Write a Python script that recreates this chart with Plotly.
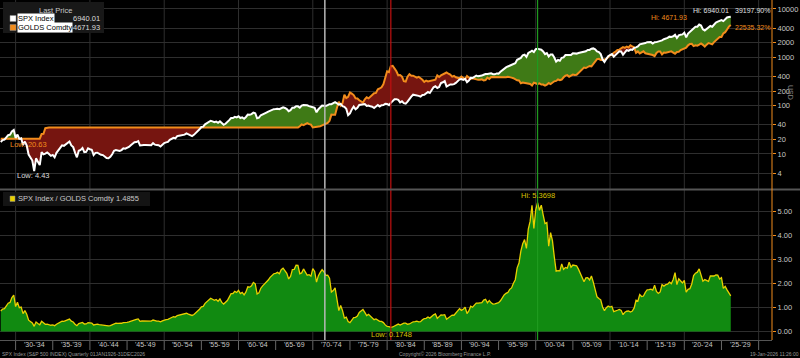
import numpy as np
import plotly.graph_objects as go

# ---------------- data (quarter-end closes) ----------------
quarters = ["1927Q4"] + [f"{y}Q{q}" for y in range(1928, 2026) for q in range(1, 5)] + ["2026Q1"]

spx = [
    17.66,
    19.28, 19.70, 21.60, 24.35,   # 1928
    25.0, 29.2, 31.3, 21.45,      # 1929
    25.1, 20.5, 21.0, 15.3,       # 1930
    18.0, 14.8, 9.7, 8.1,         # 1931
    7.3, 4.43, 8.1, 6.9,          # 1932
    5.85, 10.9, 9.8, 10.1,        # 1933
    10.7, 9.9, 9.1, 9.5,          # 1934
    8.5, 10.5, 11.9, 13.4,        # 1935
    15.0, 14.7, 15.9, 17.2,       # 1936
    18.1, 15.0, 13.8, 10.6,       # 1937
    8.5, 11.6, 12.1, 13.2,        # 1938
    10.9, 11.0, 13.0, 12.5,       # 1939
    12.2, 9.5, 10.5, 10.6,        # 1940
    9.95, 9.6, 9.45, 8.7,         # 1941
    8.2, 8.1, 8.7, 9.8,           # 1942
    11.6, 12.0, 11.9, 11.5,       # 1943
    12.0, 13.0, 12.8, 13.3,       # 1944
    13.9, 15.1, 16.0, 17.4,       # 1945
    17.6, 18.4, 14.9, 15.3,       # 1946
    15.2, 15.2, 15.1, 15.3,       # 1947
    15.1, 16.7, 15.5, 15.2,       # 1948
    15.1, 14.2, 15.6, 16.8,       # 1949
    17.3, 17.7, 19.5, 20.4,       # 1950
    21.5, 21.0, 23.3, 23.8,       # 1951
    24.4, 25.0, 25.0, 26.6,       # 1952
    25.3, 24.1, 23.4, 24.8,       # 1953
    26.9, 29.2, 32.3, 36.0,       # 1954
    36.6, 41.0, 43.7, 45.5,       # 1955
    48.5, 47.0, 45.4, 46.7,       # 1956
    44.1, 47.4, 42.4, 40.0,       # 1957
    42.1, 45.2, 50.1, 55.2,       # 1958
    55.4, 58.5, 56.9, 59.9,       # 1959
    55.3, 56.9, 53.5, 58.1,       # 1960
    65.1, 64.6, 66.7, 71.6,       # 1961
    69.6, 54.8, 56.3, 63.1,       # 1962
    66.6, 69.4, 71.7, 75.0,       # 1963
    78.9, 81.7, 84.2, 84.8,       # 1964
    86.2, 84.1, 90.0, 92.4,       # 1965
    89.2, 84.7, 76.6, 80.3,       # 1966
    90.2, 90.6, 96.7, 96.5,       # 1967
    90.2, 99.6, 102.7, 103.9,     # 1968
    101.5, 97.7, 93.1, 92.1,      # 1969
    89.6, 72.7, 84.2, 92.2,       # 1970
    100.3, 99.7, 98.3, 102.1,     # 1971
    107.2, 107.1, 110.6, 118.1,   # 1972
    111.5, 104.3, 108.4, 97.6,    # 1973
    94.0, 86.0, 63.5, 68.6,       # 1974
    83.4, 95.2, 83.9, 90.2,       # 1975
    102.8, 104.3, 105.2, 107.5,   # 1976
    98.4, 100.5, 96.5, 95.1,      # 1977
    89.2, 95.5, 102.5, 96.1,      # 1978
    101.6, 102.9, 109.3, 107.9,   # 1979
    102.1, 114.24, 125.5, 135.8,  # 1980
    136.0, 131.2, 116.2, 122.6,   # 1981
    112.0, 109.6, 120.4, 140.6,   # 1982
    153.0, 168.1, 166.1, 164.9,   # 1983
    159.2, 153.2, 166.1, 167.2,   # 1984
    180.7, 191.9, 182.1, 211.3,   # 1985
    238.9, 250.8, 231.3, 242.2,   # 1986
    291.7, 304.0, 321.8, 247.1,   # 1987
    258.9, 273.5, 271.9, 277.7,   # 1988
    294.9, 318.0, 349.2, 353.4,   # 1989
    339.9, 358.0, 306.1, 330.2,   # 1990
    375.2, 371.2, 387.9, 417.1,   # 1991
    403.7, 408.1, 418.0, 435.7,   # 1992
    451.7, 450.5, 458.9, 466.5,   # 1993
    445.8, 444.3, 462.7, 459.3,   # 1994
    500.7, 544.8, 584.4, 615.9,   # 1995
    645.5, 670.6, 687.3, 740.7,   # 1996
    757.1, 885.1, 947.3, 970.4,   # 1997
    1101.8, 1133.8, 1017.0, 1229.2,  # 1998
    1286.4, 1372.7, 1282.7, 1469.3,  # 1999
    1498.58, 1454.6, 1436.5, 1320.3, # 2000
    1160.3, 1224.4, 1040.9, 1148.1,  # 2001
    1147.4, 989.8, 815.3, 879.8,     # 2002
    848.2, 974.5, 996.0, 1111.9,     # 2003
    1126.2, 1140.8, 1114.6, 1211.9,  # 2004
    1180.6, 1191.3, 1228.8, 1248.3,  # 2005
    1294.8, 1270.2, 1335.9, 1418.3,  # 2006
    1420.9, 1503.4, 1526.8, 1468.4,  # 2007
    1322.7, 1280.0, 1166.4, 903.3,   # 2008
    797.9, 919.3, 1057.1, 1115.1,    # 2009
    1169.4, 1030.7, 1141.2, 1257.6,  # 2010
    1325.8, 1320.6, 1131.4, 1257.6,  # 2011
    1408.5, 1362.2, 1440.7, 1426.2,  # 2012
    1569.2, 1606.3, 1681.6, 1848.4,  # 2013
    1872.3, 1960.2, 1972.3, 2058.9,  # 2014
    2067.9, 2063.1, 1920.0, 2043.9,  # 2015
    2059.7, 2098.9, 2168.3, 2238.8,  # 2016
    2362.7, 2423.4, 2519.4, 2673.6,  # 2017
    2640.9, 2718.4, 2914.0, 2506.9,  # 2018
    2834.4, 2941.8, 2976.7, 3230.8,  # 2019
    2584.6, 3100.3, 3363.0, 3756.1,  # 2020
    3972.9, 4297.5, 4307.5, 4766.2,  # 2021
    4530.4, 3785.4, 3585.6, 3839.5,  # 2022
    4109.3, 4450.4, 4288.1, 4769.8,  # 2023
    5254.4, 5460.5, 5762.5, 5881.6,  # 2024
    5611.9, 6205.0, 6688.5, 6845.5,  # 2025
    6940.01,                         # 2026 (last)
]

gold = [
    20.64,
    20.64, 20.64, 20.64, 20.64,   # 1928
    20.64, 20.64, 20.64, 20.64,   # 1929
    20.63, 20.64, 20.64, 20.64,   # 1930
    20.64, 20.64, 20.64, 20.64,   # 1931
    20.64, 20.64, 20.64, 20.64,   # 1932
    20.64, 25.8, 26.0, 34.0,      # 1933
    35.0, 35.0, 35.0, 35.0,       # 1934
    35.0, 35.0, 35.0, 35.0,       # 1935
    35.0, 35.0, 35.0, 35.0,       # 1936
    35.0, 35.0, 35.0, 35.0,       # 1937
    35.0, 35.0, 35.0, 35.0,       # 1938
    35.0, 35.0, 35.0, 35.0,       # 1939
    35.0, 35.0, 35.0, 35.0,       # 1940
    35.0, 35.0, 35.0, 35.0,       # 1941
    35.0, 35.0, 35.0, 35.0,       # 1942
    35.0, 35.0, 35.0, 35.0,       # 1943
    35.0, 35.0, 35.0, 35.0,       # 1944
    35.0, 35.0, 35.0, 35.0,       # 1945
    35.0, 35.0, 35.0, 35.0,       # 1946
    35.0, 35.0, 35.0, 35.0,       # 1947
    35.0, 35.0, 35.0, 35.0,       # 1948
    35.0, 35.0, 35.0, 35.0,       # 1949
    35.0, 35.0, 35.0, 35.0,       # 1950
    35.0, 35.0, 35.0, 35.0,       # 1951
    35.0, 35.0, 35.0, 35.0,       # 1952
    35.0, 35.0, 35.0, 35.0,       # 1953
    35.0, 35.0, 35.0, 35.0,       # 1954
    35.0, 35.0, 35.0, 35.0,       # 1955
    35.0, 35.0, 35.0, 35.0,       # 1956
    35.0, 35.0, 35.0, 35.0,       # 1957
    35.0, 35.0, 35.0, 35.0,       # 1958
    35.0, 35.0, 35.0, 35.0,       # 1959
    35.0, 35.0, 35.0, 35.3,       # 1960
    35.0, 35.0, 35.0, 35.0,       # 1961
    35.0, 35.0, 35.0, 35.0,       # 1962
    35.0, 35.0, 35.0, 35.0,       # 1963
    35.0, 35.0, 35.0, 35.0,       # 1964
    35.0, 35.0, 35.0, 35.0,       # 1965
    35.0, 35.0, 35.0, 35.0,       # 1966
    35.0, 35.0, 35.0, 35.0,       # 1967
    37.5, 40.8, 39.4, 41.9,       # 1968
    43.3, 41.3, 40.4, 35.2,       # 1969
    35.8, 35.4, 36.2, 37.4,       # 1970
    38.9, 40.1, 42.0, 43.6,       # 1971
    48.3, 65.1, 64.9, 64.9,       # 1972
    90.0, 120.0, 100.0, 112.3,    # 1973
    168.0, 143.0, 152.0, 186.5,   # 1974
    177.0, 165.0, 142.0, 140.3,   # 1975
    129.0, 123.0, 115.0, 134.5,   # 1976
    148.0, 141.0, 154.0, 165.0,   # 1977
    181.0, 183.0, 217.0, 226.0,   # 1978
    240.0, 277.5, 397.0, 512.0,   # 1979
    494.0, 653.5, 666.8, 589.5,   # 1980
    513.0, 423.0, 428.0, 400.0,   # 1981
    320.0, 315.0, 397.0, 448.0,   # 1982
    414.0, 416.0, 405.0, 380.0,   # 1983
    394.0, 375.0, 343.0, 309.0,   # 1984
    330.0, 317.0, 326.0, 327.0,   # 1985
    344.0, 343.0, 423.0, 391.0,   # 1986
    421.0, 447.0, 459.0, 484.0,   # 1987
    457.0, 437.0, 397.0, 410.0,   # 1988
    385.0, 373.0, 367.0, 401.0,   # 1989
    368.0, 352.0, 408.0, 386.0,   # 1990
    356.0, 367.0, 355.0, 353.0,   # 1991
    341.0, 343.0, 349.0, 333.0,   # 1992
    337.0, 378.0, 355.0, 391.0,   # 1993
    390.0, 385.0, 395.0, 383.0,   # 1994
    392.0, 387.0, 384.0, 387.0,   # 1995
    397.0, 382.0, 379.0, 369.0,   # 1996
    351.0, 334.0, 332.0, 290.0,   # 1997
    301.0, 296.0, 294.0, 288.0,   # 1998
    280.0, 261.0, 299.0, 290.0,   # 1999
    279.075, 288.0, 273.0, 272.0, # 2000
    258.0, 270.0, 293.0, 279.0,   # 2001
    303.0, 318.0, 324.0, 347.0,   # 2002
    336.0, 346.0, 385.0, 417.0,   # 2003
    427.0, 395.0, 416.0, 438.0,   # 2004
    428.0, 435.0, 473.0, 513.0,   # 2005
    582.0, 614.0, 599.0, 632.0,   # 2006
    662.0, 650.0, 743.0, 834.0,   # 2007
    916.0, 930.0, 884.0, 884.0,   # 2008
    916.0, 927.0, 1001.0, 1096.0, # 2009
    1113.0, 1244.0, 1307.0, 1421.0,  # 2010
    1439.0, 1500.0, 1620.0, 1565.0,  # 2011
    1669.0, 1598.0, 1773.0, 1675.0,  # 2012
    1595.0, 1235.0, 1326.0, 1202.0,  # 2013
    1284.0, 1327.0, 1211.0, 1184.0,  # 2014
    1183.0, 1172.0, 1115.0, 1061.0,  # 2015
    1233.0, 1322.0, 1316.0, 1146.0,  # 2016
    1249.0, 1242.0, 1280.0, 1303.0,  # 2017
    1325.0, 1253.0, 1187.0, 1282.0,  # 2018
    1292.0, 1409.0, 1472.0, 1517.0,  # 2019
    1577.0, 1768.0, 1886.0, 1898.0,  # 2020
    1708.0, 1770.0, 1743.0, 1829.0,  # 2021
    1937.0, 1807.0, 1660.0, 1824.0,  # 2022
    1969.0, 1919.0, 1849.0, 2063.0,  # 2023
    2230.0, 2327.0, 2635.0, 2625.0,  # 2024
    3124.0, 3303.0, 3858.0, 4319.0,  # 2025
    4671.93,                         # 2026 (last)
]

x_labels = ["'30-'34", "'35-'39", "'40-'44", "'45-'49", "'50-'54", "'55-'59", "'60-'64",
            "'65-'69", "'70-'74", "'75-'79", "'80-'84", "'85-'89", "'90-'94", "'95-'99",
            "'00-'04", "'05-'09", "'10-'14", "'15-'19", "'20-'24", "'25-'29"]
x_label_start = [1930 + 5 * i for i in range(len(x_labels))]
top_ticks = [4, 10, 20, 40, 100, 200, 400, 1000, 2000, 4000, 10000]
ratio_ticks = [0, 1, 2, 3, 4, 5]
nixon_date = 1971.62

assert len(quarters) == len(spx) == len(gold)

# ---------------- styles ----------------
BG = "black"
WHITE = "#ffffff"
ORANGE = "#f28c1c"
YELLOW = "#e8d000"
GREEN_TOP = "#3f7a16"
RED_TOP = "#761510"
GREEN_BOT = "#118a11"
GRID = "#2e2e2e"
TXT = "#c8c8c8"
FONT = "Liberation Sans"

PW, PH = 772, 340          # plot area in px
TOP_BOTTOM_PX = 188        # top panel lower edge
BOT_TOP_PX = 192           # bottom panel upper edge
X0, X1 = 1927.9, 2031.8


def px(x, y):
    return x / PW, (PH - y) / PH


t = np.array([int(q[:4]) + int(q[-1]) / 4.0 for q in quarters])
s = np.array(spx, dtype=float)
g = np.array(gold, dtype=float)
ratio = s / g

# insert crossing points (in log space) for the coloured fills
la, lb = np.log10(s), np.log10(g)
xs, ua, ub = [t[0]], [la[0]], [lb[0]]
for i in range(1, len(t)):
    d0, d1 = la[i - 1] - lb[i - 1], la[i] - lb[i]
    if d0 * d1 < 0:
        f = d0 / (d0 - d1)
        xc = t[i - 1] + f * (t[i] - t[i - 1])
        yc = la[i - 1] + f * (la[i] - la[i - 1])
        xs.append(xc); ua.append(yc); ub.append(yc)
    xs.append(t[i]); ua.append(la[i]); ub.append(lb[i])
xs = np.array(xs); ua = np.array(ua); ub = np.array(ub)
upper = np.maximum(ua, ub)

fig = go.Figure()
common = dict(mode="lines", hoverinfo="skip", showlegend=False, xaxis="x2", yaxis="y2")
# green region (SPX above gold)
fig.add_trace(go.Scatter(x=xs, y=10 ** ub, line=dict(width=0), **common))
fig.add_trace(go.Scatter(x=xs, y=10 ** upper, line=dict(width=0), fill="tonexty", fillcolor=GREEN_TOP, **common))
# red region (gold above SPX)
fig.add_trace(go.Scatter(x=xs, y=10 ** ua, line=dict(width=0), **common))
fig.add_trace(go.Scatter(x=xs, y=10 ** upper, line=dict(width=0), fill="tonexty", fillcolor=RED_TOP, **common))
# lines
fig.add_trace(go.Scatter(x=t, y=g, line=dict(color=ORANGE, width=2), **common))
fig.add_trace(go.Scatter(x=t, y=s, line=dict(color=WHITE, width=2), **common))

# ratio panel
fig.add_trace(go.Scatter(x=t, y=ratio, mode="lines", fill="tozeroy", fillcolor=GREEN_BOT,
                         line=dict(color=YELLOW, width=1.3), hoverinfo="skip", showlegend=False,
                         xaxis="x", yaxis="y"))

tick_font = dict(family=FONT, size=7.5, color=TXT)

fig.update_layout(
    width=800, height=358,
    margin=dict(l=0, r=800 - PW, t=0, b=358 - PH),
    paper_bgcolor=BG, plot_bgcolor=BG,
    font=dict(family=FONT, color=TXT),
    showlegend=False,
    xaxis=dict(domain=[0, 1], anchor="y", range=[X0, X1], showticklabels=False,
               ticks="", showgrid=False, zeroline=False, showline=True,
               linecolor="#555555", linewidth=1),
    yaxis=dict(domain=[0, (PH - BOT_TOP_PX) / PH], anchor="x", side="right",
               range=[-0.354, 5.81], tickvals=ratio_ticks,
               ticktext=[f"{v:.2f}" for v in ratio_ticks],
               ticks="outside", ticklen=3, tickcolor=ORANGE, showline=False,
               gridcolor=GRID, gridwidth=1, zeroline=False, tickfont=tick_font),
    xaxis2=dict(domain=[0, 1], anchor="y2", range=[X0, X1], showticklabels=False,
                showgrid=False, zeroline=False, ticks="", showline=False),
    yaxis2=dict(domain=[(PH - TOP_BOTTOM_PX) / PH, 1], anchor="x2", side="right", type="log",
                range=[0.294, 4.186], tickvals=top_ticks, ticktext=[str(v) for v in top_ticks],
                ticks="outside", ticklen=3, tickcolor=ORANGE, showline=False,
                gridcolor=GRID, gridwidth=1, zeroline=False, tickfont=tick_font),
)

shapes = []
# vertical grid lines every 10 years
for yr in range(1930, 2031, 10):
    shapes.append(dict(type="line", xref="x", yref="paper", x0=yr, x1=yr, y0=0, y1=1,
                       line=dict(color=GRID, width=1), layer="below"))
# label separators on x axis
for yr in x_label_start + [2030]:
    shapes.append(dict(type="line", xref="x", yref="paper", x0=yr, x1=yr,
                       y0=px(0, PH + 1)[1], y1=px(0, PH + 10)[1],
                       line=dict(color="#666666", width=1)))
# event lines
lo_date = t[int(np.argmin(ratio))]
hi_date = t[int(np.argmax(ratio))]
for xv, col, w in [(nixon_date, "#b8b8b8", 1.5), (lo_date, "#c01010", 1.2), (hi_date, "#1f9a1f", 1.2)]:
    shapes.append(dict(type="line", xref="x", yref="paper", x0=xv, x1=xv, y0=0, y1=1,
                       line=dict(color=col, width=w), layer="above"))
# panel separator
sep_y = px(0, 189.5)[1]
shapes.append(dict(type="line", xref="paper", yref="paper", x0=0, x1=800 / PW, y0=sep_y, y1=sep_y,
                   line=dict(color="#555555", width=2)))
# right axis line (orange)
shapes.append(dict(type="line", xref="paper", yref="paper", x0=1, x1=1, y0=px(0, PH)[1], y1=1,
                   line=dict(color=ORANGE, width=1)))
# legend boxes
lx0, ly0 = px(3, 2); lx1, ly1 = px(104, 33)
shapes.append(dict(type="rect", xref="paper", yref="paper", x0=lx0, x1=lx1, y0=ly1, y1=ly0,
                   fillcolor="#181818", line=dict(width=0)))
for (yy, col) in [(18.5, WHITE), (27.5, ORANGE)]:
    a0, b0 = px(10, yy - 3); a1, b1 = px(16, yy + 3)
    shapes.append(dict(type="rect", xref="paper", yref="paper", x0=a0, x1=a1, y0=b1, y1=b0,
                       fillcolor=col, line=dict(color="#888888", width=0.5)))
a0, b0 = px(3, 192); a1, b1 = px(150, 206)
shapes.append(dict(type="rect", xref="paper", yref="paper", x0=a0, x1=a1, y0=b1, y1=b0,
                   fillcolor="#141414", line=dict(width=0)))
a0, b0 = px(10, 196); a1, b1 = px(15, 201.5)
shapes.append(dict(type="rect", xref="paper", yref="paper", x0=a0, x1=a1, y0=b1, y1=b0,
                   fillcolor=YELLOW, line=dict(color="#888888", width=0.5)))
fig.update_layout(shapes=shapes)

ann = []


def text(x, y, s_, color=TXT, size=8, anchor="left", bg=None, angle=0, xref_data=False):
    ax, ay = px(x, y)
    d = dict(xref="paper", yref="paper", x=ax, y=ay, text=s_, showarrow=False,
             xanchor=anchor, yanchor="middle", font=dict(family=FONT, size=size, color=color),
             borderpad=0, textangle=angle)
    if bg:
        d["bgcolor"] = bg
    ann.append(d)


# x-axis period labels (centred in each 5-year block)
for start, lab in zip(x_label_start, x_labels):
    ann.append(dict(xref="x", yref="paper", x=start + 2.5, y=px(0, 344.5)[1], text=lab,
                    showarrow=False, xanchor="center", yanchor="middle",
                    font=dict(family=FONT, size=7, color=TXT)))

# top legend
text(56, 10, "Last Price", TXT, 7.5, "center")
text(17, 18.5, "SPX Index", "black", 7.5, "left", bg="white")
text(101, 18.5, f"{spx[-1]:.2f}", "#dddddd", 7.5, "right")
text(17, 27.5, "GOLDS Comdty", "black", 7.5, "left", bg="white")
text(101, 27.5, f"{gold[-1]:.2f}", "#dddddd", 7.5, "right")
# bottom legend
text(17, 199, f"SPX Index / GOLDS Comdty {ratio[-1]:.4f}", TXT, 7.5, "left")

# top annotations
spx_pct = (spx[-1] / spx[0] - 1) * 100
gold_pct = (gold[-1] / gold[0] - 1) * 100
text(730, 10, f"Hi: {max(spx):.2f}", "#e0e0e0", 7, "right")
text(771, 10, f"{spx_pct:.2f}%", "#e0e0e0", 7, "right")
text(650, 17, f"Hi: {max(gold):.2f}", ORANGE, 7, "left")
text(771, 27, f"{gold_pct:.2f}%", ORANGE, 7, "right")
text(9, 144, f"Low: {min(gold):.2f}", ORANGE, 7.5, "left")
text(16, 176, f"Low: {min(spx):.2f}", "#dddddd", 7.5, "left")
# bottom annotations
text(520, 196, f"Hi: {ratio.max():.4f}", "#d8c000", 7.5, "left")
text(370, 334, f"Low: {ratio.min():.4f}", "#d8c000", 7.5, "left")
# axis caption
text(791, 92, "USD", "#888888", 7, "center", angle=90)
# footer
text(1, 354, "SPX Index (S&P 500 INDEX) Quarterly 01JAN1926-31DEC2026", "#999999", 5, "left")
text(398, 354, "Copyright\u00a9 2026 Bloomberg Finance L.P.", "#999999", 5, "left")
text(800, 354, "19-Jan-2026 11:26:00", "#999999", 5, "right")

fig.update_layout(annotations=ann)
fig.write_html("out.html")
